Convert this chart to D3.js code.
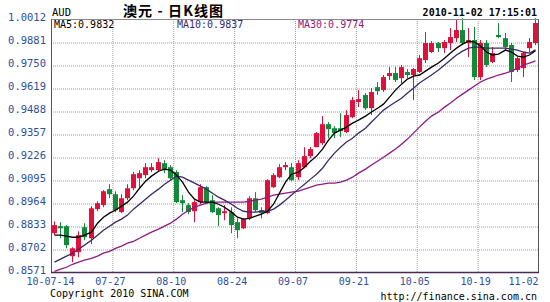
<!DOCTYPE html>
<html><head><meta charset="utf-8">
<script src="https://cdn.jsdelivr.net/npm/d3@7"></script>
<style>
html,body{margin:0;padding:0;background:#fff;}
svg{display:block;}
</style></head>
<body>
<svg id="chart" width="550" height="302"></svg>
<script>
// ---- data ----
const symbol = "AUD";
const title = "澳元 - 日K线图";
const timestamp = "2010-11-02 17:15:01";
const dateLabels = ["10-07-14","07-27","08-10","08-24","09-07","09-21","10-05","10-19","11-02"];
const yTicks = [0.8571,0.8702,0.8833,0.8964,0.9095,0.9226,0.9357,0.9488,0.9619,0.9750,0.9881,1.0012];
const maLabels = ["MA5:0.9832","MA10:0.9837","MA30:0.9774"];

const open  = [0.8792,0.8832,0.8832,0.8661,0.8684,0.8826,0.8763,0.8929,0.8952,0.9043,
               0.9014,0.8912,0.8991,0.9048,0.9105,0.9123,0.9151,0.9151,0.9191,0.9168,
               0.9140,0.8980,0.8952,0.8917,0.8969,0.9054,0.8980,0.8934,0.8906,0.8912,
               0.8855,0.8820,0.8877,0.8991,0.8923,0.8906,0.9054,0.9111,0.9168,0.9168,
               0.9111,0.9168,0.9231,0.9282,0.9305,0.9413,0.9390,0.9390,0.9368,0.9453,
               0.9539,0.9579,0.9504,0.9624,0.9607,0.9687,0.9704,0.9675,0.9710,0.9693,
               0.9710,0.9778,0.9824,0.9875,0.9846,0.9875,0.9903,0.9949,0.9875,0.9892,
               0.9681,0.9875,0.9767,0.9921,0.9903,0.9864,0.9721,0.9732,0.9846,0.9875];
const high  = [0.8860,0.8855,0.8838,0.8712,0.8803,0.8849,0.8946,0.8974,0.9037,0.9071,
               0.9031,0.9014,0.9071,0.9140,0.9151,0.9191,0.9191,0.9219,0.9208,0.9180,
               0.9151,0.9009,0.8963,0.8980,0.9071,0.9060,0.9009,0.8940,0.8952,0.8940,
               0.8877,0.8877,0.9003,0.9026,0.8940,0.9100,0.9134,0.9185,0.9197,0.9191,
               0.9208,0.9282,0.9282,0.9368,0.9459,0.9425,0.9402,0.9476,0.9493,0.9567,
               0.9607,0.9590,0.9618,0.9653,0.9693,0.9738,0.9738,0.9750,0.9727,0.9732,
               0.9807,0.9938,0.9886,0.9881,0.9892,0.9960,1.0006,1.0017,0.9960,0.9966,
               0.9892,0.9892,0.9852,0.9989,0.9932,0.9875,0.9795,0.9824,0.9903,1.0017];
const low   = [0.8781,0.8763,0.8706,0.8627,0.8655,0.8752,0.8729,0.8917,0.8940,0.8991,
               0.8912,0.8906,0.8980,0.9037,0.9054,0.9105,0.9140,0.9140,0.9134,0.9094,
               0.8963,0.8912,0.8900,0.8855,0.8957,0.8957,0.8906,0.8832,0.8866,0.8792,
               0.8763,0.8815,0.8866,0.8912,0.8877,0.8900,0.9048,0.9105,0.9151,0.9088,
               0.9094,0.9162,0.9219,0.9282,0.9294,0.9333,0.9333,0.9339,0.9362,0.9447,
               0.9510,0.9493,0.9465,0.9579,0.9596,0.9664,0.9653,0.9647,0.9675,0.9550,
               0.9704,0.9761,0.9818,0.9824,0.9818,0.9835,0.9881,0.9864,0.9795,0.9664,
               0.9664,0.9738,0.9761,0.9903,0.9835,0.9653,0.9710,0.9681,0.9824,0.9864];
const close = [0.8838,0.8820,0.8724,0.8706,0.8781,0.8769,0.8934,0.8963,0.9031,0.9014,
               0.8923,0.8991,0.9048,0.9128,0.9134,0.9168,0.9168,0.9197,0.9151,0.9105,
               0.8969,0.8963,0.8912,0.8969,0.9054,0.8969,0.8912,0.8895,0.8917,0.8838,
               0.8809,0.8872,0.8991,0.8923,0.8906,0.9094,0.9123,0.9168,0.9180,0.9094,
               0.9191,0.9231,0.9271,0.9362,0.9413,0.9385,0.9362,0.9373,0.9465,0.9550,
               0.9556,0.9504,0.9596,0.9601,0.9681,0.9704,0.9664,0.9738,0.9693,0.9727,
               0.9789,0.9875,0.9875,0.9846,0.9881,0.9909,0.9949,0.9875,0.9892,0.9681,
               0.9875,0.9750,0.9818,0.9909,0.9852,0.9710,0.9789,0.9818,0.9881,0.9989];

const ma5  = [0.8781,0.8781,0.8775,0.8769,0.8769,0.8781,0.8798,0.8849,0.8883,0.8906,
              0.8923,0.8946,0.8969,0.9003,0.9048,0.9088,0.9117,0.9145,0.9157,0.9151,
              0.9123,0.9083,0.9026,0.8986,0.8969,0.8969,0.8969,0.8957,0.8940,0.8912,
              0.8883,0.8872,0.8877,0.8889,0.8900,0.8917,0.8957,0.9020,0.9083,0.9128,
              0.9140,0.9168,0.9202,0.9231,0.9271,0.9322,0.9362,0.9379,0.9396,0.9419,
              0.9436,0.9459,0.9482,0.9504,0.9527,0.9567,0.9607,0.9641,0.9670,0.9687,
              0.9693,0.9715,0.9738,0.9761,0.9789,0.9818,0.9846,0.9869,0.9886,0.9881,
              0.9858,0.9824,0.9807,0.9812,0.9835,0.9824,0.9801,0.9795,0.9807,0.9832];
const ma10 = [0.8627,0.8644,0.8661,0.8678,0.8701,0.8724,0.8752,0.8781,0.8809,0.8832,
              0.8855,0.8872,0.8895,0.8929,0.8957,0.8986,0.9014,0.9043,0.9071,0.9094,
              0.9117,0.9111,0.9094,0.9077,0.9060,0.9043,0.9020,0.8997,0.8980,0.8957,
              0.8934,0.8917,0.8912,0.8912,0.8917,0.8917,0.8929,0.8952,0.8980,0.9009,
              0.9043,0.9071,0.9100,0.9128,0.9162,0.9208,0.9248,0.9282,0.9311,0.9333,
              0.9362,0.9390,0.9425,0.9459,0.9493,0.9516,0.9539,0.9561,0.9590,0.9618,
              0.9647,0.9670,0.9693,0.9721,0.9750,0.9778,0.9807,0.9829,0.9846,0.9852,
              0.9852,0.9846,0.9846,0.9846,0.9846,0.9841,0.9835,0.9824,0.9818,0.9837];
const ma30 = [0.8575,0.8587,0.8598,0.8615,0.8627,0.8638,0.8649,0.8661,0.8678,0.8689,
              0.8706,0.8718,0.8735,0.8746,0.8763,0.8781,0.8798,0.8815,0.8832,0.8849,
              0.8872,0.8900,0.8923,0.8940,0.8952,0.8963,0.8969,0.8969,0.8969,0.8969,
              0.8969,0.8969,0.8974,0.8980,0.8986,0.8997,0.9009,0.9014,0.9020,0.9026,
              0.9031,0.9043,0.9054,0.9066,0.9071,0.9077,0.9077,0.9083,0.9094,0.9111,
              0.9134,0.9157,0.9180,0.9202,0.9225,0.9248,0.9271,0.9299,0.9328,0.9362,
              0.9396,0.9430,0.9459,0.9482,0.9510,0.9533,0.9561,0.9584,0.9607,0.9630,
              0.9653,0.9670,0.9681,0.9693,0.9704,0.9715,0.9732,0.9750,0.9761,0.9774];

// ---- layout ----
const L = 51, R = 538, T = 19, B = 272;
const n = open.length;
const svg = d3.select("#chart");
const mono = "'DejaVu Sans Mono', 'Liberation Mono', monospace";

const x = d3.scaleBand().domain(d3.range(n)).range([L, R]).paddingInner(0.2).paddingOuter(0.1);
const xg = d3.scaleLinear().domain([0, n]).range([L, R]);
const y = d3.scaleLinear().domain([yTicks[0], yTicks[yTicks.length-1]]).range([B, T]);
const cx = i => Math.round(x(i) + x.bandwidth()/2);

// grid
const gridH = svg.append("g").attr("transform", `translate(${L},0.5)`)
  .call(d3.axisLeft(y).tickValues(yTicks.slice(1, -1)).tickSize(-(R-L)).tickFormat(""));
gridH.select(".domain").remove();
gridH.selectAll("line").attr("stroke", "#9a9a9a").attr("stroke-dasharray", "1,1");

const vt = d3.range(10, n, 10);
const gridV = svg.append("g").attr("transform", `translate(0.5,${B})`)
  .call(d3.axisBottom(xg).tickValues(vt).tickSize(-(B-T)).tickFormat(""));
gridV.select(".domain").remove();
gridV.selectAll("line").attr("stroke", "#9a9a9a").attr("stroke-dasharray", "1,1");

// y axis labels
const yAxis = svg.append("g").attr("transform", `translate(${L-5},0)`)
  .call(d3.axisLeft(y).tickValues(yTicks).tickSize(0).tickPadding(0).tickFormat(d3.format(".4f")));
yAxis.select(".domain").remove();
yAxis.selectAll("text").attr("font-family", mono).attr("font-size", 10.5).attr("fill", "#2d4f9e").attr("dy", "0.12em");

// x axis labels
const xAxis = svg.append("g").attr("transform", `translate(0,${B})`)
  .call(d3.axisBottom(xg).tickValues(d3.range(0, n+1, 10)).tickSize(0).tickPadding(0)
        .tickFormat((d, i) => dateLabels[i]));
xAxis.select(".domain").remove();
xAxis.selectAll("text").attr("font-family", mono).attr("font-size", 10).attr("fill", "#2d4f9e")
  .attr("dy", "1.3em")
  .attr("text-anchor", (d, i) => i === dateLabels.length - 1 ? "end" : "middle")
  .attr("dx", (d, i) => i === 0 ? -1 : (i === dateLabels.length - 1 ? 0 : -2));

// candles
const up = i => close[i] >= open[i];
const red = "#e0103c", green = "#138a3a";
const cg = svg.append("g");
cg.selectAll("line.wick").data(d3.range(n)).join("line")
  .attr("x1", i => cx(i) + 0.5).attr("x2", i => cx(i) + 0.5)
  .attr("y1", i => y(high[i])).attr("y2", i => y(low[i]))
  .attr("stroke", i => up(i) ? red : green).attr("stroke-width", 1);
cg.selectAll("rect.body").data(d3.range(n)).join("rect")
  .attr("x", i => cx(i) - 2).attr("width", 5)
  .attr("y", i => y(Math.max(open[i], close[i])))
  .attr("height", i => Math.max(1, Math.abs(y(open[i]) - y(close[i]))))
  .attr("fill", i => up(i) ? red : green);

// MA lines
const line = d3.line().x((d, i) => cx(i) + 0.5).y(d => y(d));
[[ma30, "#8e1a86"], [ma10, "#3a2a6a"], [ma5, "#000000"]].forEach(([arr, col]) => {
  svg.append("path").datum(arr).attr("d", line).attr("fill", "none")
    .attr("stroke", col).attr("stroke-width", 1.3);
});

// frame
svg.append("line").attr("x1", L).attr("x2", R+1).attr("y1", T+0.5).attr("y2", T+0.5).attr("stroke", "#8a8a8a");
svg.append("line").attr("x1", L+0.5).attr("x2", L+0.5).attr("y1", T).attr("y2", B+1).attr("stroke", "#555");
svg.append("line").attr("x1", R+0.5).attr("x2", R+0.5).attr("y1", T).attr("y2", B+1).attr("stroke", "#555");
svg.append("line").attr("x1", L).attr("x2", R+1).attr("y1", B+0.5).attr("y2", B+0.5).attr("stroke", "#4a2a55").attr("stroke-width", 1.5);

// header texts
svg.append("text").attr("x", 52).attr("y", 16).attr("font-family", mono).attr("font-size", 10.5).attr("fill", "#000").text(symbol);
svg.append("text").attr("x", 123).attr("y", 15.5).attr("font-family", "'Noto Sans CJK SC', sans-serif")
  .attr("font-size", 14).attr("font-weight", "bold").attr("fill", "#000")
  .attr("textLength", 100).attr("lengthAdjust", "spacing").text(title);
svg.append("text").attr("x", 537).attr("y", 16).attr("text-anchor", "end").attr("font-family", mono).attr("font-size", 10).attr("font-weight", "bold").attr("fill", "#000").text(timestamp);

const maCols = ["#000000", "#3a2a6a", "#8e1a86"];
const maX = [54, 177, 298];
maLabels.forEach((t, i) => {
  svg.append("text").attr("x", maX[i]).attr("y", 27.5).attr("font-family", mono).attr("font-size", 10)
    .attr("fill", maCols[i]).text(t);
});

// footer
svg.append("text").attr("x", 50).attr("y", 297).attr("font-family", mono).attr("font-size", 10).attr("fill", "#000").text("Copyright 2010 SINA.COM");
svg.append("text").attr("x", 537).attr("y", 300).attr("text-anchor", "end").attr("font-family", mono).attr("font-size", 10).attr("fill", "#000").text("http://finance.sina.com.cn");
</script>
</body></html>
